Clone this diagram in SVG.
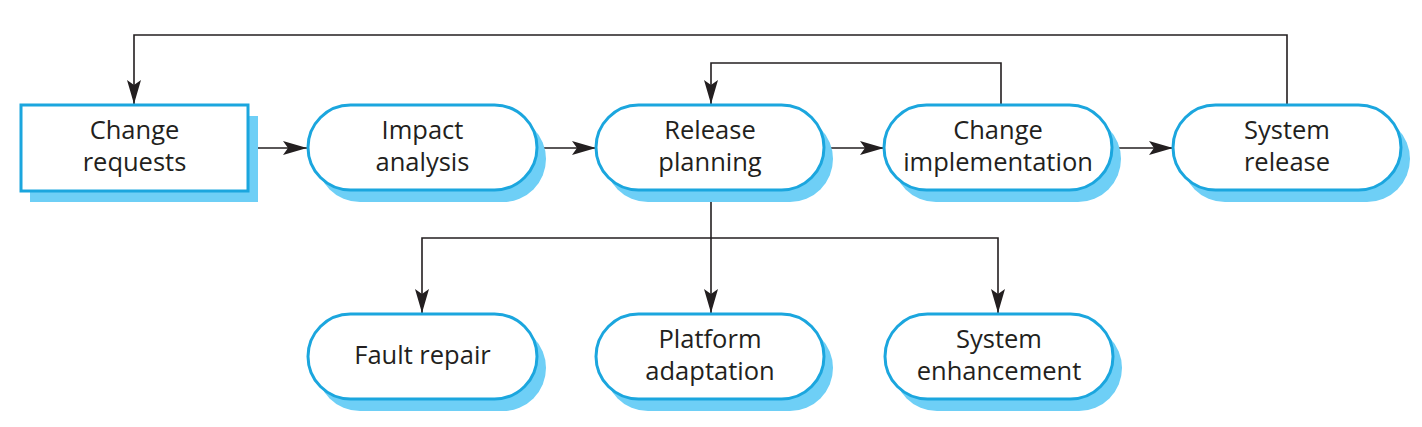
<svg xmlns="http://www.w3.org/2000/svg" width="1422" height="427" viewBox="0 0 1422 427">
<style>
.shadow{fill:#6ECFF6;stroke:none}
.box{fill:#fff;stroke:#1BA6DE;stroke-width:3}
.lbl{font-family:"Open Sans","Liberation Sans",sans-serif;font-size:25.5px;fill:#231F20;text-anchor:middle}
.conn{fill:none;stroke:#231F20;stroke-width:1.6}
</style>
<defs>
<marker id="arr" markerUnits="userSpaceOnUse" markerWidth="26" markerHeight="15" refX="24" refY="7" orient="auto">
<path d="M0,0 L24,7 L0,14 L5,7 Z" fill="#231F20"/>
</marker>
</defs>
<g id="connectors">
<path class="conn" d="M1287,105 V35 H134 V104" marker-end="url(#arr)"/>
<path class="conn" d="M1001,105 V63 H711 V104" marker-end="url(#arr)"/>
<path class="conn" d="M248,148 H307" marker-end="url(#arr)"/>
<path class="conn" d="M537,148 H596" marker-end="url(#arr)"/>
<path class="conn" d="M824,148 H884" marker-end="url(#arr)"/>
<path class="conn" d="M1112,148 H1173" marker-end="url(#arr)"/>
<path class="conn" d="M711,190 V313" marker-end="url(#arr)"/>
<path class="conn" d="M711,238 H422 V313" marker-end="url(#arr)"/>
<path class="conn" d="M711,238 H998 V313" marker-end="url(#arr)"/>
</g>
<g id="change-requests">
<rect class="shadow" x="30" y="116" width="228" height="86"/>
<rect class="box" x="21" y="105" width="227" height="86"/>
<text class="lbl" x="134.5" y="139">Change</text>
<text class="lbl" x="134.5" y="171">requests</text>
</g>
<g id="impact-analysis">
<rect class="shadow" x="317" y="116" width="229" height="86" rx="43"/>
<rect class="box" x="308" y="105" width="229" height="85" rx="42.5"/>
<text class="lbl" x="422.5" y="139">Impact</text>
<text class="lbl" x="422.5" y="171">analysis</text>
</g>
<g id="release-planning">
<rect class="shadow" x="605" y="116" width="228" height="86" rx="43"/>
<rect class="box" x="596" y="105" width="228" height="85" rx="42.5"/>
<text class="lbl" x="710" y="139">Release</text>
<text class="lbl" x="710" y="171">planning</text>
</g>
<g id="change-implementation">
<rect class="shadow" x="893" y="116" width="228" height="86" rx="43"/>
<rect class="box" x="884" y="105" width="228" height="85" rx="42.5"/>
<text class="lbl" x="998" y="139">Change</text>
<text class="lbl" x="998" y="171">implementation</text>
</g>
<g id="system-release">
<rect class="shadow" x="1182" y="116" width="228" height="86" rx="43"/>
<rect class="box" x="1173" y="105" width="228" height="85" rx="42.5"/>
<text class="lbl" x="1287" y="139">System</text>
<text class="lbl" x="1287" y="171">release</text>
</g>
<g id="fault-repair">
<rect class="shadow" x="317" y="325" width="229" height="86" rx="43"/>
<rect class="box" x="308" y="314" width="229" height="85" rx="42.5"/>
<text class="lbl" x="422.5" y="364">Fault repair</text>
</g>
<g id="platform-adaptation">
<rect class="shadow" x="605" y="325" width="228" height="86" rx="43"/>
<rect class="box" x="596" y="314" width="228" height="85" rx="42.5"/>
<text class="lbl" x="710" y="348">Platform</text>
<text class="lbl" x="710" y="380">adaptation</text>
</g>
<g id="system-enhancement">
<rect class="shadow" x="894" y="325" width="228" height="86" rx="43"/>
<rect class="box" x="885" y="314" width="228" height="85" rx="42.5"/>
<text class="lbl" x="999" y="348">System</text>
<text class="lbl" x="999" y="380">enhancement</text>
</g>
</svg>
